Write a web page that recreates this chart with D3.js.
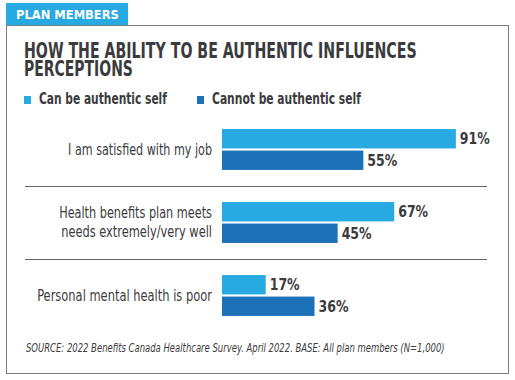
<!DOCTYPE html>
<html><head><meta charset="utf-8">
<script src="https://cdn.jsdelivr.net/npm/d3@7"></script>
<style>
html,body{margin:0;padding:0;background:#fff;}
svg{display:block;}
text{font-family:"Liberation Sans Narrow","DejaVu Sans Condensed","Roboto",sans-serif;}
</style></head>
<body>
<svg id="chart" width="515" height="380"></svg>
<script>
const tabLabel = "PLAN MEMBERS";
const titleLines = ["HOW THE ABILITY TO BE AUTHENTIC INFLUENCES", "PERCEPTIONS"];
const seriesNames = ["Can be authentic self", "Cannot be authentic self"];
const categories = ["I am satisfied with my job", "Health benefits plan meets needs extremely/very well", "Personal mental health is poor"];
const categoryLines = [["I am satisfied with my job"], ["Health benefits plan meets", "needs extremely/very well"], ["Personal mental health is poor"]];
const canValues = [91, 67, 17];
const cannotValues = [55, 45, 36];
const sourceText = "SOURCE: 2022 Benefits Canada Healthcare Survey. April 2022. BASE: All plan members (N=1,000)";

const colors = ["#27a9e1", "#1c71b8"];
const textColor = "#3b3b3d";
const svg = d3.select("#chart");

// squeeze text horizontally to a target width (about its anchor x)
function fit(sel, w) {
  sel.each(function(){
    const len = this.getComputedTextLength();
    if (len > 0) {
      const k = w / len;
      const ax = +this.getAttribute("x");
      d3.select(this).attr("transform", `translate(${ax},0) scale(${k},1) translate(${-ax},0)`);
    }
  });
  return sel;
}

// frame
svg.append("rect").attr("x", 6.5).attr("y", 25.5).attr("width", 502).attr("height", 348)
  .attr("fill", "none").attr("stroke", "#7a7a7a").attr("stroke-width", 1);
// tab
svg.append("rect").attr("x", 6).attr("y", 3).attr("width", 122).attr("height", 22).attr("fill", colors[0]);
fit(svg.append("text").attr("x", 16).attr("y", 19.5).attr("fill", "#fff")
  .attr("font-size", 13).attr("font-weight", "bold").attr("font-family", "'DejaVu Sans','Roboto',sans-serif").text(tabLabel), 103);

// title
titleLines.forEach((t, i) => {
  const el = svg.append("text").attr("x", 24).attr("y", 58 + i * 18.5).attr("fill", textColor)
    .attr("font-size", 20.5).attr("font-weight", "bold").text(t);
  fit(el, i === 0 ? 393 : 109);
});

// legend
const legendX = [24, 197];
const legendW = [128, 149];
seriesNames.forEach((s, i) => {
  svg.append("rect").attr("x", legendX[i]).attr("y", 96).attr("width", 7).attr("height", 8).attr("fill", colors[i]);
  fit(svg.append("text").attr("x", legendX[i] + 15).attr("y", 104.5).attr("fill", textColor)
    .attr("font-size", 15).attr("font-weight", "bold").text(s), legendW[i]);
});

// scales
const x = d3.scaleLinear().domain([0, 100]).range([222, 479]);
const y0 = d3.scaleBand().domain(categories).range([113, 332]).paddingInner(0.44).paddingOuter(0.22);
const y1 = d3.scaleBand().domain(seriesNames).range([0, y0.bandwidth()]).paddingInner(0.1);

const rows = categories.map((c, i) => ({cat: c, lines: categoryLines[i], vals: [canValues[i], cannotValues[i]]}));

// separators
for (let i = 0; i < categories.length - 1; i++) {
  const yy = Math.round((y0(categories[i]) + y0.bandwidth() + y0(categories[i + 1])) / 2) + 0.5;
  svg.append("line").attr("x1", 25).attr("x2", 487).attr("y1", yy).attr("y2", yy)
    .attr("stroke", "#666").attr("stroke-width", 1);
}

const labelW = [[144], [153, 151], [175]];
const g = svg.selectAll("g.row").data(rows).join("g").attr("class", "row")
  .attr("transform", d => `translate(0,${y0(d.cat)})`);

g.each(function(d, ri) {
  const gg = d3.select(this);
  const cy = y0.bandwidth() / 2;
  d.lines.forEach((ln, li) => {
    const yy = cy + 5.5 + (li - (d.lines.length - 1) / 2) * 19;
    fit(gg.append("text").attr("x", 212).attr("y", yy).attr("text-anchor", "end")
      .attr("fill", textColor).attr("font-size", 15).text(ln), labelW[ri][li]);
  });
  d.vals.forEach((v, si) => {
    const s = seriesNames[si];
    gg.append("rect").attr("x", x(0)).attr("y", y1(s)).attr("width", x(v) - x(0))
      .attr("height", y1.bandwidth()).attr("fill", colors[si]);
    fit(gg.append("text").attr("x", x(v) + 4).attr("y", y1(s) + y1.bandwidth() / 2 + 5.5)
      .attr("fill", textColor).attr("font-size", 15.5).attr("font-weight", "bold").text(v + "%"), 30);
  });
});

// source
fit(svg.append("text").attr("x", 26).attr("y", 352).attr("fill", textColor)
  .attr("font-size", 11.5).attr("font-style", "italic").text(sourceText), 419);
</script>
</body></html>
